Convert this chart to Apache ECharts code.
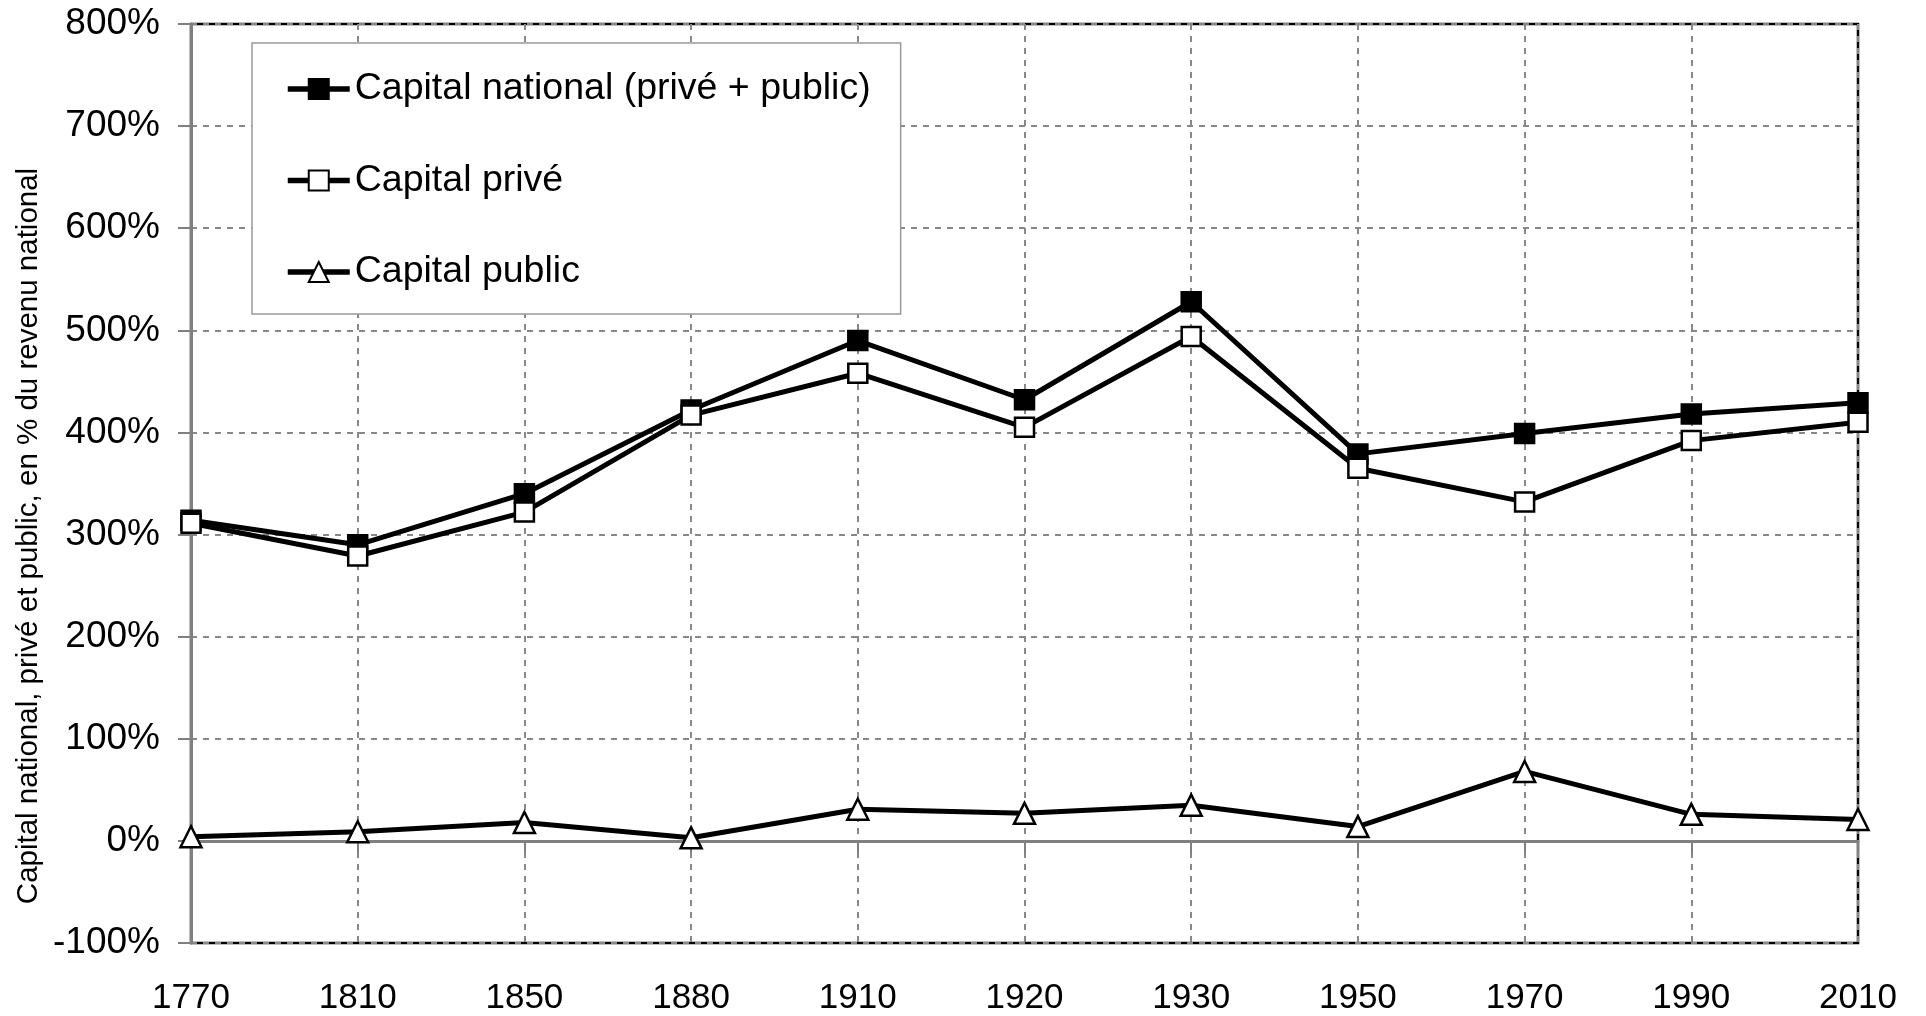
<!DOCTYPE html>
<html>
<head>
<meta charset="utf-8">
<script src="https://cdn.jsdelivr.net/npm/echarts@6/dist/echarts.min.js"></script>
<style>
  html, body { margin: 0; padding: 0; background: #fff; }
  #chart { width: 1926px; height: 1016px; }
</style>
</head>
<body>
<div id="chart"></div>
<script>
var years = ['1770', '1810', '1850', '1880', '1910', '1920', '1930', '1950', '1970', '1990', '2010'];
// en % du revenu national
var capitalNational = [314, 290, 340, 422, 490, 432, 528, 379, 399, 418, 429];
var capitalPrive = [311, 279, 322, 417, 458, 405, 494, 365, 332, 392, 410];
var capitalPublic = [4, 9, 18, 3, 31, 27, 35, 14, 68, 26, 21];
var seriesNames = ['Capital national (privé + public)', 'Capital privé', 'Capital public'];
var yTitle = 'Capital national, privé et public, en % du revenu national';

var chart = echarts.init(document.getElementById('chart'));
var font = '"Liberation Sans", Arial, sans-serif';

function lineSeries(name, data, symbol, fill) {
  return {
    name: name,
    type: 'line',
    data: data,
    symbol: symbol,
    symbolSize: symbol === 'triangle' ? 21 : 19,
    lineStyle: { color: '#000', width: 5 },
    itemStyle: { color: fill, borderColor: '#000', borderWidth: 2.5 },
    emphasis: { disabled: true },
    animation: false
  };
}

var option = {
  backgroundColor: '#fff',
  grid: {
    left: 191, right: 68, top: 24, bottom: 73,
    outerBoundsMode: 'none',
    containLabel: false,
    show: true,
    borderColor: '#000',
    borderWidth: 2.5
  },
  legend: {
    orient: 'vertical',
    left: 252,
    top: 43,
    padding: [26, 30, 22, 33],
    itemGap: 51.5,
    itemWidth: 62,
    itemHeight: 25,
    backgroundColor: '#fff',
    borderColor: '#999',
    borderWidth: 1.5,
    lineStyle: { width: 5.5 },
    textStyle: { fontFamily: font, fontSize: 37.5, color: '#000', lineHeight: 40 },
    data: seriesNames
  },
  xAxis: {
    type: 'category',
    data: years,
    boundaryGap: false,
    axisLine: { onZero: true, lineStyle: { color: '#808080', width: 3 } },
    axisTick: { length: 12, lineStyle: { color: '#808080', width: 2 } },
    axisLabel: { margin: 38, fontFamily: font, fontSize: 35, color: '#000' },
    splitLine: { show: true, lineStyle: { color: '#888', width: 2, type: [6, 6] } }
  },
  yAxis: {
    type: 'value',
    min: -100,
    max: 800,
    interval: 100,
    axisLine: { show: true, lineStyle: { color: '#808080', width: 3 } },
    axisTick: { show: true, length: 13, lineStyle: { color: '#808080', width: 2 } },
    axisLabel: { margin: 31, formatter: '{value}%', fontFamily: font, fontSize: 37, color: '#000' },
    splitLine: { show: true, lineStyle: { color: '#888', width: 2, type: [6, 6] } }
  },
  graphic: [{
    type: 'text',
    x: 29,
    y: 536,
    rotation: Math.PI / 2,
    style: {
      text: yTitle,
      fontFamily: font,
      fontSize: 29.5,
      fill: '#000',
      align: 'center',
      verticalAlign: 'middle'
    }
  }],
  series: [
    lineSeries(seriesNames[0], capitalNational, 'rect', '#000'),
    lineSeries(seriesNames[1], capitalPrive, 'rect', '#fff'),
    lineSeries(seriesNames[2], capitalPublic, 'triangle', '#fff')
  ]
};
chart.setOption(option);
</script>
</body>
</html>
